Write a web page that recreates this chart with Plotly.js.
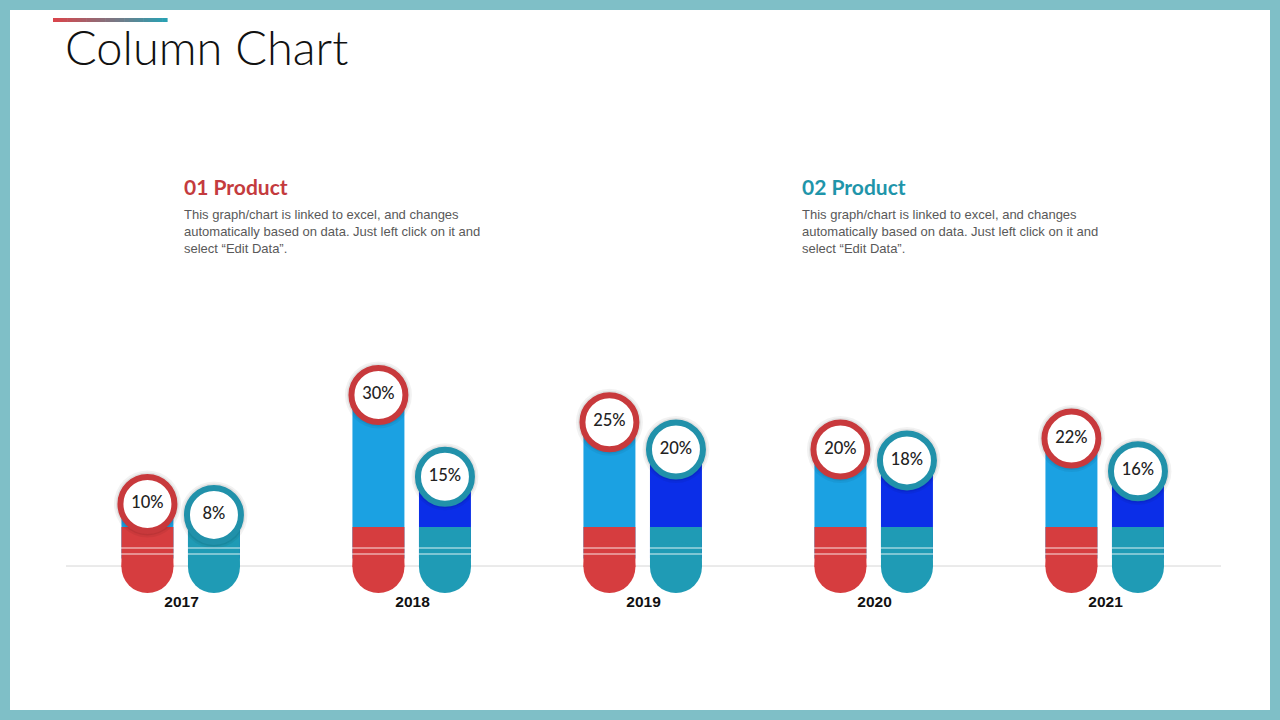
<!DOCTYPE html>
<html>
<head>
<meta charset="utf-8">
<script src="https://cdn.plot.ly/plotly-3.0.1.min.js"></script>
<style>
  html, body { margin: 0; padding: 0; background: #ffffff; }
  #chart { width: 1280px; height: 720px; }
</style>
</head>
<body>
<div id="chart"></div>
<script>
// ---------- data ----------
const years = ['2017', '2018', '2019', '2020', '2021'];
const product1 = [10, 30, 25, 20, 22];
const product2 = [8, 15, 20, 18, 16];
const seriesNames = ['01 Product', '02 Product'];
const description = 'This graph/chart is linked to excel, and changes<br>automatically based on data. Just left click on it and<br>select \u201cEdit Data\u201d.';
const chartTitle = 'Column Chart';

// ---------- style ----------
const W = 1280, H = 720;
const M = { l: 66, r: 59, t: 300, b: 124 };
const plotW = W - M.l - M.r, plotH = H - M.t - M.b;
const RED = '#d63d3f', TEAL = '#1f9bb5', LBLUE = '#1ba1e2', BLUE = '#0b2ee8';
const RED_RING = '#c8393c', TEAL_RING = '#2191aa';
const yRange = [-6.88, 47.43];
const pxPerUnit = plotH / (yRange[1] - yRange[0]);
const barW = 0.225, off1 = -0.26, off2 = 0.028;
const barWpx = barW * plotW / 5;
const footTop = 5.78, footBottom = -6.33;   // decorative coloured foot of each pill
const footR = (barWpx / 2) / pxPerUnit;

function px(x, y) { return { x: (x - M.l) / plotW, y: (H - M.b - y) / plotH }; }
function yOfPx(y) { return yRange[0] + (H - M.b - y) / pxPerUnit; }

const idx = years.map((_, i) => i);
const footLen = years.map(() => (footBottom + footR) - footTop);
const footBase = years.map(() => footTop);
const footCap = years.map(() => footBottom + footR);

const traces = [];
// value columns
traces.push({ type: 'bar', x: idx, y: product1, width: barW, offset: off1,
  marker: { color: LBLUE, line: { width: 0 } }, hoverinfo: 'skip', name: seriesNames[0] });
traces.push({ type: 'bar', x: idx, y: product2, width: barW, offset: off2,
  marker: { color: BLUE, line: { width: 0 } }, hoverinfo: 'skip', name: seriesNames[1] });
// coloured feet (rectangular part)
traces.push({ type: 'bar', x: idx, y: footLen, base: footBase, width: barW, offset: off1,
  marker: { color: RED, line: { width: 0 } }, hoverinfo: 'skip' });
traces.push({ type: 'bar', x: idx, y: footLen, base: footBase, width: barW, offset: off2,
  marker: { color: TEAL, line: { width: 0 } }, hoverinfo: 'skip' });

const xs1 = idx.map(i => i + off1 + barW / 2);
const xs2 = idx.map(i => i + off2 + barW / 2);
// rounded bottoms of the feet
traces.push({ type: 'scatter', mode: 'markers', x: xs1, y: footCap, cliponaxis: false,
  marker: { size: barWpx, color: RED, line: { width: 0 } }, hoverinfo: 'skip' });
traces.push({ type: 'scatter', mode: 'markers', x: xs2, y: footCap, cliponaxis: false,
  marker: { size: barWpx, color: TEAL, line: { width: 0 } }, hoverinfo: 'skip' });

// circle labels
[[xs1, product1, RED_RING], [xs2, product2, TEAL_RING]].forEach(([xs, vals, ring]) => {
  traces.push({ type: 'scatter', mode: 'markers', x: xs, y: vals, cliponaxis: false,
    marker: { size: 67, color: 'rgba(0,0,0,0.05)', line: { width: 0 } }, hoverinfo: 'skip' });
  traces.push({ type: 'scatter', mode: 'markers', x: xs, y: vals, cliponaxis: false,
    marker: { size: 63, color: 'rgba(0,0,0,0.07)', line: { width: 0 } }, hoverinfo: 'skip' });
  traces.push({ type: 'scatter', mode: 'markers+text', x: xs, y: vals, cliponaxis: false,
    text: vals.map(v => v + '%'), textposition: 'middle center',
    textfont: { family: 'Lato, "Open Sans", sans-serif', size: 16.5, color: '#222222', weight: 500 },
    marker: { size: 54, color: '#ffffff', line: { width: 6, color: ring } }, hoverinfo: 'skip' });
});

// ---------- shapes ----------
const shapes = [];
// white slide area over the patterned border colour
shapes.push({ type: 'rect', xref: 'paper', yref: 'paper', layer: 'below',
  x0: px(10, 0).x, x1: px(1270, 0).x, y0: px(0, 10).y, y1: px(0, 710).y,
  fillcolor: '#ffffff', line: { width: 0 } });
// baseline
shapes.push({ type: 'line', xref: 'paper', yref: 'y', layer: 'below',
  x0: 0, x1: 1, y0: yOfPx(566), y1: yOfPx(566), line: { color: '#d6d6d6', width: 1 } });
// thin white stripes on the feet
[548, 554].forEach(yy => shapes.push({ type: 'line', xref: 'paper', yref: 'y', layer: 'above',
  x0: 0, x1: 1, y0: yOfPx(yy), y1: yOfPx(yy), line: { color: 'rgba(255,255,255,0.85)', width: 1.2 } }));
// gradient accent above title
const c0 = [216, 70, 76], c1 = [42, 160, 178];
const nSeg = 24, gx0 = 53, gx1 = 167;
for (let k = 0; k < nSeg; k++) {
  const t = k / (nSeg - 1);
  const col = 'rgb(' + c0.map((c, j) => Math.round(c + (c1[j] - c) * t)).join(',') + ')';
  const a = px(gx0 + (gx1 - gx0) * k / nSeg, 20), b = px(gx0 + (gx1 - gx0) * (k + 1) / nSeg + 0.6, 20);
  shapes.push({ type: 'line', xref: 'paper', yref: 'paper', x0: a.x, x1: b.x, y0: a.y, y1: b.y,
    line: { color: col, width: 4 } });
}

// ---------- annotations ----------
const ann = [];
const tPos = px(63, 47);
ann.push({ xref: 'paper', yref: 'paper', x: tPos.x, y: tPos.y, xanchor: 'left', yanchor: 'middle',
  showarrow: false, text: chartTitle,
  font: { family: 'Lato, "Open Sans", sans-serif', size: 47, color: '#111111', weight: 300 } });
[[183, '#c43b3e', seriesNames[0]], [801, '#1f95aa', seriesNames[1]]].forEach(([x, col, name]) => {
  const h = px(x - 1, 186);
  ann.push({ xref: 'paper', yref: 'paper', x: h.x, y: h.y, xanchor: 'left', yanchor: 'middle',
    showarrow: false, text: name,
    font: { family: 'Lato, "Open Sans", sans-serif', size: 21, color: col, weight: 700 } });
  const d = px(x - 1, 232);
  ann.push({ xref: 'paper', yref: 'paper', x: d.x, y: d.y, xanchor: 'left', yanchor: 'middle',
    align: 'left', showarrow: false, text: description,
    font: { family: '"Liberation Sans", Arial, sans-serif', size: 13, color: '#595959' } });
});

const layout = {
  width: W, height: H,
  margin: M,
  paper_bgcolor: '#7fbfc7',
  plot_bgcolor: 'rgba(0,0,0,0)',
  barmode: 'overlay',
  showlegend: false,
  xaxis: { range: [-0.5, 4.5], tickvals: idx, ticktext: years, showgrid: false, zeroline: false,
    showline: false, ticks: '', ticklabelstandoff: -6,
    tickfont: { family: '"Liberation Sans", Arial, sans-serif', size: 15.5, color: '#111111', weight: 700 },
    fixedrange: true },
  yaxis: { range: yRange, visible: false, fixedrange: true },
  shapes: shapes,
  annotations: ann
};

Plotly.newPlot('chart', traces, layout, { displayModeBar: false, staticPlot: true });
</script>
</body>
</html>
